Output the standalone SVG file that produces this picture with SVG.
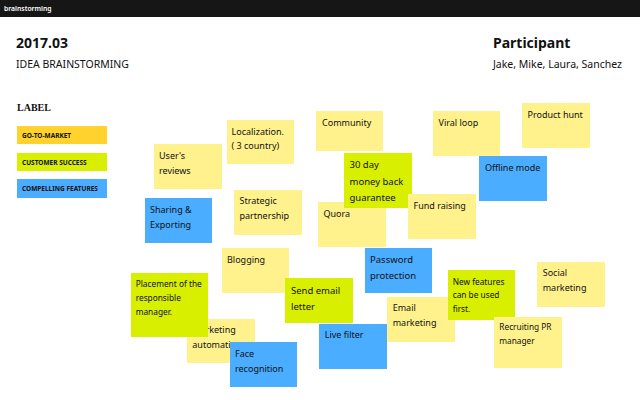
<svg xmlns="http://www.w3.org/2000/svg" width="640" height="400" viewBox="0 0 640 400">
<style>
text{font-family:"Noto Sans","Open Sans","DejaVu Sans",sans-serif;fill:#111}
.y{fill:#FFF18C}
.g{fill:#D8EF00}
.b{fill:#4AADFF}
.o{fill:#FFD22E}
.n{font-size:9px}
.ns{font-size:8.3px}
.nl{font-size:9.5px}
.lb{font-size:6.5px;font-weight:bold}
</style>
<rect width="640" height="400" fill="#fff"/>
<rect x="0" y="0" width="640" height="17" fill="#161616"/>
<text x="4" y="11" style="font-size:6.8px;font-weight:600;fill:#ffffff">brainstorming</text>
<g id="header">
<text x="16" y="48" style="font-size:14px;font-weight:bold">2017.03</text>
<text x="16" y="68" style="font-size:10.5px">IDEA BRAINSTORMING</text>
<text x="493" y="48" style="font-size:14px;font-weight:bold">Participant</text>
<text x="493" y="67.5" style="font-size:10.5px">Jake, Mike, Laura, Sanchez</text>
</g>
<g id="legend">
<text x="17" y="111" style="font-family:'Liberation Serif',serif;font-size:10px;font-weight:bold">LABEL</text>
<g id="label-gtm"><rect class="o" x="17" y="126" width="90" height="18"/><text class="lb" x="22" y="137.5">GO-TO-MARKET</text></g>
<g id="label-cs"><rect class="g" x="17" y="153" width="90" height="18"/><text class="lb" x="22" y="164.5">CUSTOMER SUCCESS</text></g>
<g id="label-cf"><rect class="b" x="17" y="179" width="90" height="19"/><text class="lb" x="22" y="190.5">COMPELLING FEATURES</text></g>
</g>
<g id="connectors"/>
<g id="n-localization"><rect class="y" x="227" y="120" width="67" height="44"/><text class="n" x="231.5" y="134.5">Localization.</text><text class="n" x="231.5" y="149">( 3 country)</text></g>
<g id="n-reviews"><rect class="y" x="154" y="144" width="68" height="45"/><text class="n" x="159" y="159">User's</text><text class="n" x="159" y="174">reviews</text></g>
<g id="n-sharing"><rect class="b" x="145" y="198" width="67" height="45"/><text class="n" x="150" y="212.5">Sharing &amp;</text><text class="n" x="150" y="227.5">Exporting</text></g>
<g id="n-strategic"><rect class="y" x="234" y="190" width="68" height="45"/><text class="n" x="239.5" y="204">Strategic</text><text class="n" x="239.5" y="219">partnership</text></g>
<g id="n-community"><rect class="y" x="316" y="111" width="67" height="40"/><text class="n" x="322" y="126">Community</text></g>
<g id="n-viral"><rect class="y" x="433" y="111" width="67" height="45"/><text class="n" x="438.5" y="125.5">Viral loop</text></g>
<g id="n-product"><rect class="y" x="522" y="103" width="68" height="45"/><text class="n" x="527.5" y="117.5">Product hunt</text></g>
<g id="n-offline"><rect class="b" x="479" y="156" width="68" height="45"/><text class="n" x="485" y="171">Offline mode</text></g>
<g id="n-quora"><rect class="y" x="318" y="202" width="68" height="45"/><text class="n" x="323.5" y="217">Quora</text></g>
<g id="n-moneyback"><rect class="g" x="344" y="153" width="68" height="55"/><text class="nl" x="349.5" y="168">30 day</text><text class="nl" x="349.5" y="184.5">money back</text><text class="nl" x="349.5" y="201">guarantee</text></g>
<g id="n-fund"><rect class="y" x="408" y="194" width="68" height="45"/><text class="n" x="413.5" y="208.5">Fund raising</text></g>
<g id="n-blogging"><rect class="y" x="222" y="248" width="67" height="45"/><text class="n" x="227" y="262.5">Blogging</text></g>
<g id="n-password"><rect class="b" x="365" y="248" width="67" height="45"/><text class="nl" x="370" y="262.5">Password</text><text class="nl" x="370" y="278.5">protection</text></g>
<g id="n-automation"><rect class="y" x="187" y="319" width="68" height="44"/><text class="n" x="192.3" y="332.5">Marketing</text><text class="n" x="192.3" y="347.5">automation</text></g>
<g id="n-placement"><rect class="g" x="131" y="273" width="77" height="64"/><text class="ns" x="135.7" y="287">Placement of the</text><text class="ns" x="135.7" y="301">responsible</text><text class="ns" x="135.7" y="315">manager.</text></g>
<g id="n-face"><rect class="b" x="230" y="342" width="67" height="45"/><text class="n" x="235" y="356.5">Face</text><text class="n" x="235" y="371.5">recognition</text></g>
<g id="n-sendemail"><rect class="g" x="285" y="278" width="68" height="45"/><text class="nl" x="291" y="293.5">Send email</text><text class="nl" x="291" y="309.5">letter</text></g>
<g id="n-livefilter"><rect class="b" x="319" y="324" width="68" height="45"/><text class="n" x="324.7" y="338">Live filter</text></g>
<g id="n-emailmkt"><rect class="y" x="387" y="297" width="68" height="45"/><text class="n" x="392.7" y="311">Email</text><text class="n" x="392.7" y="326">marketing</text></g>
<g id="n-newfeatures"><rect class="g" x="448" y="270" width="67" height="50"/><text class="ns" x="452.7" y="284.5">New features</text><text class="ns" x="452.7" y="298">can be used</text><text class="ns" x="452.7" y="312">first.</text></g>
<g id="n-social"><rect class="y" x="537" y="262" width="68" height="45"/><text class="n" x="542.7" y="276">Social</text><text class="n" x="542.7" y="291">marketing</text></g>
<g id="n-recruiting"><rect class="y" x="494" y="317" width="68" height="51"/><text class="ns" x="499.3" y="330">Recruiting PR</text><text class="ns" x="499.3" y="344">manager</text></g>
</svg>
